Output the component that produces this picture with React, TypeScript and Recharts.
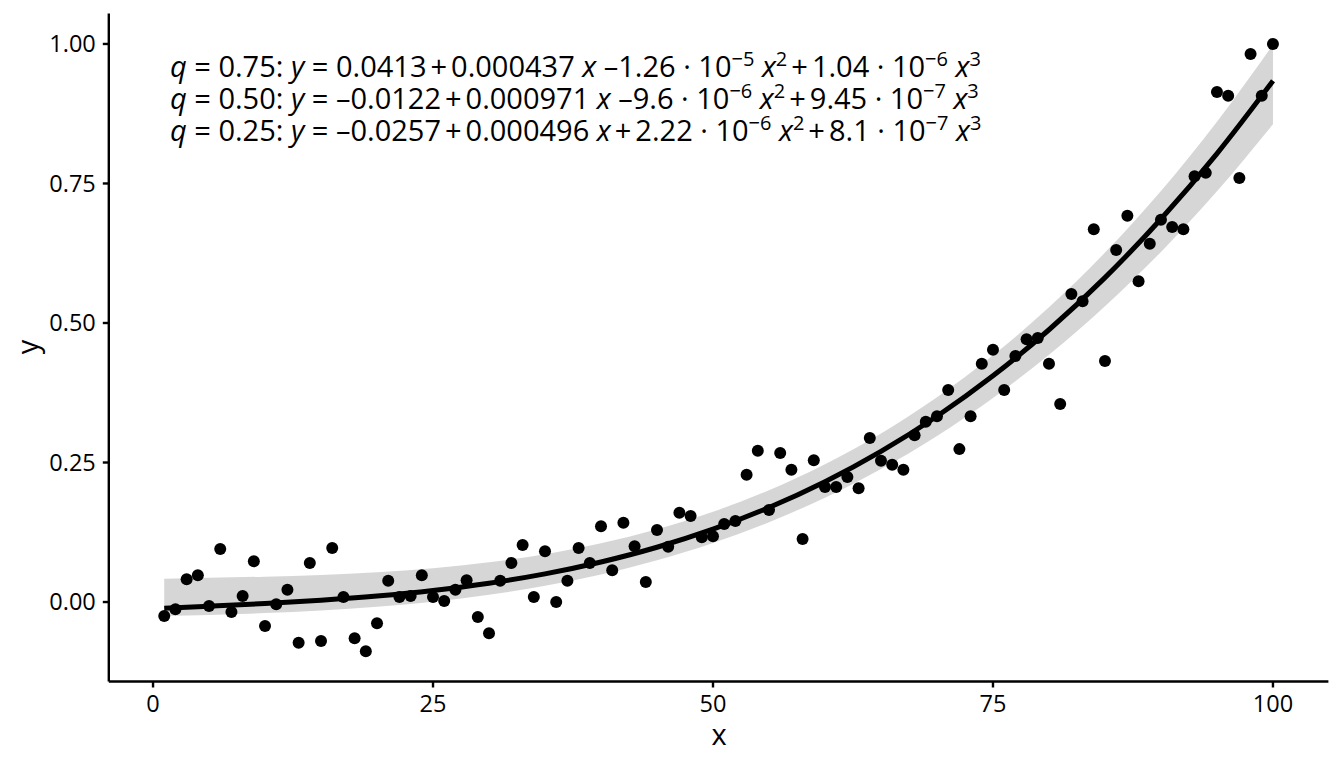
import React from 'react';
import { ComposedChart, Scatter, Line, Area, XAxis, YAxis } from 'recharts';

const pointX = [1,2,3,4,5,6,7,8,9,10,11,12,13,14,15,16,17,18,19,20,21,22,23,24,25,26,27,28,29,30,31,32,33,34,35,36,37,38,39,40,41,42,43,44,45,46,47,48,49,50,51,52,53,54,55,56,57,58,59,60,61,62,63,64,65,66,67,68,69,70,71,72,73,74,75,76,77,78,79,80,81,82,83,84,85,86,87,88,89,90,91,92,93,94,95,96,97,98,99,100];
const pointY = [
  -0.025, -0.013, 0.041, 0.048, -0.007, 0.095, -0.018, 0.011, 0.073, -0.043,
  -0.004, 0.022, -0.073, 0.070, -0.070, 0.097, 0.009, -0.065, -0.088, -0.038,
  0.038, 0.009, 0.011, 0.048, 0.009, 0.002, 0.022, 0.039, -0.027, -0.056,
  0.038, 0.070, 0.102, 0.009, 0.091, 0.000, 0.038, 0.097, 0.070, 0.136,
  0.057, 0.142, 0.100, 0.036, 0.129, 0.099, 0.160, 0.154, 0.116, 0.118,
  0.140, 0.145, 0.228, 0.271, 0.165, 0.267, 0.237, 0.113, 0.254, 0.206,
  0.206, 0.224, 0.204, 0.294, 0.253, 0.246, 0.237, 0.299, 0.323, 0.333,
  0.380, 0.274, 0.333, 0.427, 0.452, 0.380, 0.441, 0.471, 0.473, 0.427,
  0.355, 0.552, 0.539, 0.668, 0.432, 0.631, 0.692, 0.575, 0.642, 0.685,
  0.672, 0.668, 0.763, 0.769, 0.914, 0.907, 0.760, 0.982, 0.907, 1.000,
];

const curveX = [1, 5, 10, 15, 20, 25, 30, 35, 40, 45, 50, 55, 60, 65, 70, 75, 80, 85, 90, 95, 100];
const medianY = [-0.0112, -0.0075, -0.0025, 0.0034, 0.0109, 0.0208, 0.0338, 0.0505, 0.0718, 0.0982, 0.1305, 0.1694, 0.2156, 0.2699, 0.3329, 0.4053, 0.4879, 0.5813, 0.6863, 0.8036, 0.9339];
const upperY = [0.0417, 0.0433, 0.0455, 0.0485, 0.0533, 0.0606, 0.0712, 0.0858, 0.1052, 0.1302, 0.1617, 0.2003, 0.2468, 0.3021, 0.3669, 0.4420, 0.5281, 0.6261, 0.7367, 0.8608, 0.9990];
const lowerY = [-0.0252, -0.0231, -0.0197, -0.0150, -0.0084, 0.0007, 0.0131, 0.0291, 0.0495, 0.0749, 0.1059, 0.1431, 0.1870, 0.2384, 0.2977, 0.3657, 0.4429, 0.5299, 0.6274, 0.7359, 0.8561];

const xTicks = [0, 25, 50, 75, 100];
const yTicks = [0, 0.25, 0.5, 0.75, 1];
const yTickLabels = ['0.00', '0.25', '0.50', '0.75', '1.00'];

// t: text, i: italic, s: superscript, dx: extra left gap in px
type Seg = { t: string; i?: boolean; s?: boolean; dx?: number };
const eqLines: Seg[][] = [
  [
    { t: 'q', i: true }, { t: ' = 0.75: ' }, { t: 'y', i: true }, { t: ' = 0.0413' }, { t: '+', dx: 4 }, { t: '0.000437', dx: 4 },
    { t: ' ' }, { t: 'x', i: true }, { t: ' \u20131.26 \u00b7 10' }, { t: '\u22125', s: true }, { t: ' ' }, { t: 'x', i: true }, { t: '2', s: true },
    { t: '+', dx: 4 }, { t: '1.04 \u00b7 10', dx: 4 }, { t: '\u22126', s: true }, { t: ' ' }, { t: 'x', i: true }, { t: '3', s: true },
  ],
  [
    { t: 'q', i: true }, { t: ' = 0.50: ' }, { t: 'y', i: true }, { t: ' = \u20130.0122' }, { t: '+', dx: 4 }, { t: '0.000971', dx: 4 },
    { t: ' ' }, { t: 'x', i: true }, { t: ' \u20139.6 \u00b7 10' }, { t: '\u22126', s: true }, { t: ' ' }, { t: 'x', i: true }, { t: '2', s: true },
    { t: '+', dx: 4 }, { t: '9.45 \u00b7 10', dx: 4 }, { t: '\u22127', s: true }, { t: ' ' }, { t: 'x', i: true }, { t: '3', s: true },
  ],
  [
    { t: 'q', i: true }, { t: ' = 0.25: ' }, { t: 'y', i: true }, { t: ' = \u20130.0257' }, { t: '+', dx: 4 }, { t: '0.000496', dx: 4 },
    { t: ' ' }, { t: 'x', i: true }, { t: '+', dx: 4 }, { t: '2.22 \u00b7 10', dx: 4 }, { t: '\u22126', s: true }, { t: ' ' }, { t: 'x', i: true }, { t: '2', s: true },
    { t: '+', dx: 4 }, { t: '8.1 \u00b7 10', dx: 4 }, { t: '\u22127', s: true }, { t: ' ' }, { t: 'x', i: true }, { t: '3', s: true },
  ],
];

const points = pointX.map((x, i) => ({ x, y: pointY[i] }));
const bandData = curveX.map((x, i) => ({ x, band: [lowerY[i], upperY[i]] }));
const lineData = curveX.map((x, i) => ({ x, med: medianY[i] }));

const FONT = '"Open Sans", sans-serif';
const EQ_SIZE = 29;
const SUP_SIZE = 20;
const SUP_RISE = 11;

const Dot = (props: any) => <circle cx={props.cx} cy={props.cy} r={6} fill="#000" />;

function EqLine({ segs, x, y }: { segs: Seg[]; x: number; y: number }) {
  const out: React.ReactNode[] = [];
  let raised = false;
  segs.forEach((sg, k) => {
    let dy = 0;
    if (sg.s && !raised) { dy = -SUP_RISE; raised = true; }
    else if (!sg.s && raised) { dy = SUP_RISE; raised = false; }
    out.push(
      <tspan key={k} dy={dy} dx={sg.dx ?? 0} fontStyle={sg.i ? 'italic' : 'normal'} fontSize={sg.s ? SUP_SIZE : EQ_SIZE}>
        {sg.t}
      </tspan>
    );
  });
  return (
    <text x={x} y={y} fill="#000" fontFamily={FONT} fontSize={EQ_SIZE} style={{ whiteSpace: 'pre' }} xmlSpace="preserve">
      {out}
    </text>
  );
}

export default function App() {
  return (
    <div style={{ position: 'absolute', left: 0, top: 0, width: 1344, height: 768, background: '#fff' }}>
      <ComposedChart width={1344} height={768} margin={{ top: 13.6, right: 15.6, left: 0, bottom: 0 }}>
        <XAxis
          type="number"
          dataKey="x"
          domain={[-3.95, 104.95]}
          ticks={xTicks}
          height={86.5}
          allowDataOverflow
          axisLine={{ stroke: '#000', strokeWidth: 2.4 }}
          tickLine={{ stroke: '#000', strokeWidth: 2.4 }}
          tickSize={6}
          tickMargin={8}
          tick={{ fill: '#000', fontSize: 23.5, fontFamily: FONT }}
        />
        <YAxis
          type="number"
          dataKey="y"
          domain={[-0.1424, 1.0544]}
          ticks={yTicks}
          tickFormatter={(v: number) => yTickLabels[yTicks.indexOf(v)] ?? String(v)}
          width={108.8}
          allowDataOverflow
          axisLine={{ stroke: '#000', strokeWidth: 2.4 }}
          tickLine={{ stroke: '#000', strokeWidth: 2.4 }}
          tickSize={6}
          tickMargin={7}
          tick={{ fill: '#000', fontSize: 23.5, fontFamily: FONT }}
        />
        <Scatter data={points} dataKey="y" shape={Dot} isAnimationActive={false} />
        <Area
          data={bandData}
          dataKey="band"
          type="monotone"
          stroke="none"
          fill="#999999"
          fillOpacity={0.4}
          isAnimationActive={false}
          dot={false}
          activeDot={false}
        />
        <Line
          data={lineData}
          dataKey="med"
          type="monotone"
          stroke="#000"
          strokeWidth={5}
          dot={false}
          activeDot={false}
          isAnimationActive={false}
        />
      </ComposedChart>
      <svg width={1344} height={768} style={{ position: 'absolute', left: 0, top: 0, pointerEvents: 'none' }}>
        {eqLines.map((segs, i) => (
          <EqLine key={i} segs={segs} x={170} y={77 + i * 32} />
        ))}
        <text x={719} y={745} textAnchor="middle" fontFamily={FONT} fontSize={29} fill="#000">x</text>
        <text x={0} y={0} transform="translate(38,347) rotate(-90)" textAnchor="middle" fontFamily={FONT} fontSize={29} fill="#000">y</text>
      </svg>
    </div>
  );
}
